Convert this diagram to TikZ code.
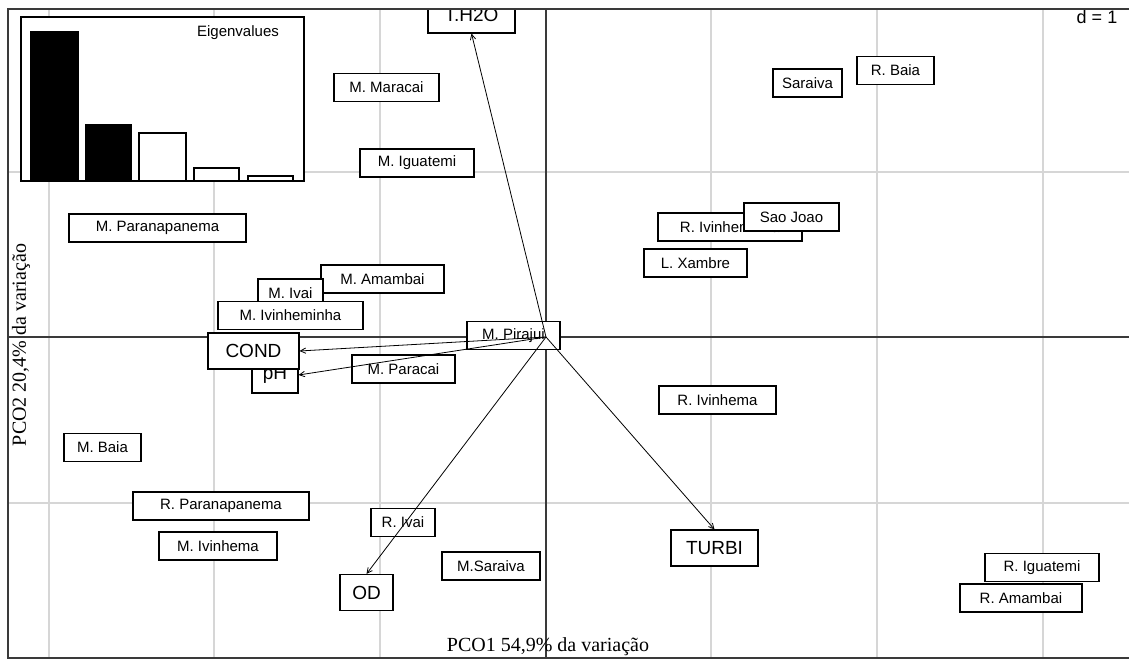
\documentclass[tikz,border=0pt]{standalone}
\usepackage{fontspec}
\setmainfont{Liberation Sans}
\newfontfamily\serifft{Liberation Serif}
\usetikzlibrary{arrows.meta}
\newdimen\px \px=0.75pt
\definecolor{gridgrey}{HTML}{D6D6D6}
\definecolor{framegrey}{HTML}{3A3A3A}
\begin{document}
\begin{tikzpicture}[x=0.75pt,y=-0.75pt,
  gridline/.style={draw=gridgrey, line width=0.9pt},
  axisline/.style={draw=framegrey, line width=1.1pt},
  lab/.style={draw=black, fill=white, line width=0.8pt, inner sep=0pt,
    minimum height=28\px, font=\fontsize{11.25}{13}\selectfont},
  biglab/.style={draw=black, fill=white, line width=0.8pt, inner sep=0pt,
    minimum height=36\px, font=\fontsize{14.25}{16}\selectfont},
  vec/.style={draw=black, line width=0.6pt, -{Straight Barb[length=4pt,width=4pt]}},
  barblack/.style={draw=black, fill=black, line width=0.9pt},
  barwhite/.style={draw=black, fill=white, line width=0.9pt}]
\useasboundingbox (0,0) rectangle (1129,659);
\fill[white] (0,0) rectangle (1129,659);
\begin{scope}
\clip (8,9) rectangle (1129,658);
% grid
\foreach \gx in {49,214,380,711,877,1043} \draw[gridline] (\gx,0) -- (\gx,670);
\foreach \gy in {172,503} \draw[gridline] (0,\gy) -- (1140,\gy);
% axes
\draw[axisline] (546,0) -- (546,670);
\draw[axisline] (0,337) -- (1140,337);
\coordinate (o) at (546,337);
% site labels
\node[lab, minimum width=105\px] (mmaracai) at (386.5,87.5) {M. Maracai};
\node[lab, minimum width=114\px] (miguatemi) at (417,163) {M. Iguatemi};
\node[lab, minimum width=69\px] (saraiva) at (807.5,83) {Saraiva};
\node[lab, minimum width=77\px] (rbaia) at (895.5,70.5) {R. Baia};
\node[lab, minimum width=177\px] (mparanapanema) at (157.5,228) {M. Paranapanema};
\node[lab, minimum width=123\px] (mamambai) at (382.5,279) {M. Amambai};
\node[lab, minimum width=65\px] (mivai) at (290.5,293) {M. Ivai};
\node[lab, minimum width=145\px] (mivinheminha) at (290.5,315.5) {M. Ivinheminha};
\node[lab, minimum width=93\px] (mpirajui) at (513.5,335.5) {M. Pirajui};
\node[lab, minimum width=103\px] (mparacai) at (403.5,369) {M. Paracai};
\node[lab, minimum width=144\px] (rivinheminha) at (730,227) {R. Ivinheminha};
\node[lab, minimum width=95\px] (saojoao) at (791.5,217) {Sao Joao};
\node[lab, minimum width=103\px] (lxambre) at (695.5,263) {L. Xambre};
\node[lab, minimum width=117\px] (rivinhema) at (717.5,400) {R. Ivinhema};
\node[lab, minimum width=77\px] (mbaia) at (102.5,447.5) {M. Baia};
\node[lab, minimum width=176\px] (rparanapanema) at (221,506) {R. Paranapanema};
\node[lab, minimum width=118\px] (mivinhema) at (218,546) {M. Ivinhema};
\node[lab, minimum width=64\px] (rivai) at (403,522.5) {R. Ivai};
\node[lab, minimum width=98\px] (msaraiva) at (491,566) {M.Saraiva};
\node[lab, minimum width=114\px] (riguatemi) at (1042,567.5) {R. Iguatemi};
\node[lab, minimum width=122\px] (ramambai) at (1021,598) {R. Amambai};
% variable labels
\node[biglab, minimum width=87\px] (th2o) at (471.5,15) {T.H2O};
\node[biglab, minimum width=46\px] (ph) at (275,375) {pH};
\node[biglab, minimum width=91\px] (cond) at (253.5,351) {COND};
\node[biglab, minimum width=53\px] (od) at (366.5,592.5) {OD};
\node[biglab, minimum width=87\px] (turbi) at (714.5,548) {TURBI};
% arrows
\draw[vec] (o) -- (th2o.south);
\draw[vec] (o) -- (cond.east);
\draw[vec] (o) -- (ph.east);
\draw[vec] (o) -- (od.north);
\draw[vec] (o) -- (turbi.north);
% eigenvalues inset
\draw[draw=black, fill=white, line width=1.1pt] (21,17) rectangle (304,181);
\draw[barblack] (31,32) rectangle (78,181);
\draw[barblack] (86,125) rectangle (131,181);
\draw[barwhite] (139,133) rectangle (186,181);
\draw[barwhite] (194,168) rectangle (239,181);
\draw[barwhite] (248,176) rectangle (293,181);
\draw[draw=black, line width=1.1pt] (21,17) rectangle (304,181);
\node[font=\fontsize{11.25}{13}\selectfont] (eig) at (238,33) {Eigenvalues};
% scale
\node[font=\fontsize{13.5}{15}\selectfont, anchor=north] (dscale) at (1097,6) {d = 1};
% axis titles
\node[font=\serifft\fontsize{15}{17}\selectfont] (xtitle) at (548,647) {PCO1 54,9\% da variação};
\node[font=\serifft\fontsize{15}{17}\selectfont, rotate=90] (ytitle) at (21,345) {PCO2 20,4\% da variação};
\end{scope}
% frame
\draw[draw=framegrey, line width=1.3pt] (1129,9) -- (8,9) -- (8,658) -- (1129,658);
\end{tikzpicture}
\end{document}
